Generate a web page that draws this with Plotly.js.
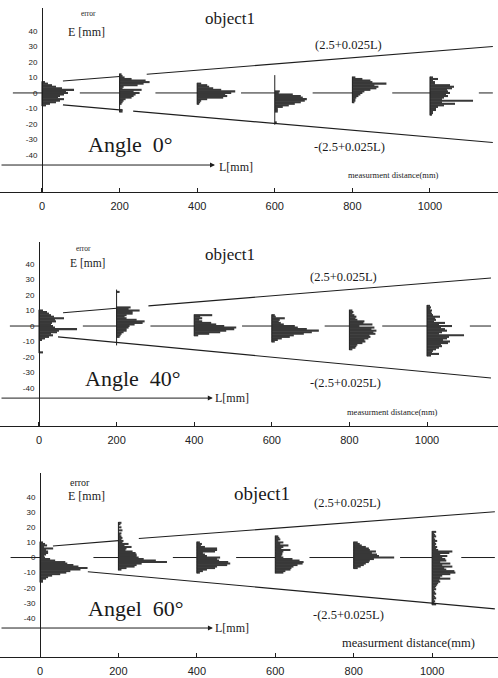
<!DOCTYPE html>
<html><head><meta charset="utf-8">
<script src="https://cdn.plot.ly/plotly-3.0.1.min.js"></script>
<style>html,body{margin:0;padding:0;background:#fff}#chart{width:498px;height:678px}</style>
</head><body><div id="chart"></div>
<script>
// ---------------- DATA ----------------
const DISTANCES = [0, 200, 400, 600, 800, 1000];           // measurement distance L [mm]
const X_TICK_LABELS = ['0', '200', '400', '600', '800', '1000'];
const Y_TICK_VALUES = [40, 30, 20, 10, 0, -10, -20, -30, -40];
const Y_TICK_LABELS = ['40', '30', '20', '10', '0', '-10', '-20', '-30', '-40'];
const PANEL_TITLES = ['Angle\u00a0\u00a00°', 'Angle\u00a0\u00a040°', 'Angel\u00a0\u00a060°'];

// Error histograms: highest error bin [mm] per distance, then bar lengths (counts) for 1 mm bins going down
const A0_TOP = [7, 12, 6, 11, 10, 10];
const A0_D0 = [3, 6, 10, 14, 20, 32, 24, 26, 22, 18, 16, 22, 18, 14, 8, 4];
const A0_D200 = [2, 3, 5, 12, 26, 30, 24, 18, 4, 3, 22, 14, 20, 16, 14, 12, 6, 4, 3, 2, 0, 0, 0, 3, 3];
const A0_D400 = [4, 10, 12, 16, 24, 38, 34, 28, 30, 26, 10, 4, 3, 2];
const A0_D600 = [0, 0, 0, 0, 0, 0, 0, 0, 0, 0, 5, 4, 18, 26, 28, 32, 30, 26, 20, 14, 8, 3, 3, 3, 0, 0, 0, 0, 0, 0, 2, 0];
const A0_D800 = [3, 10, 18, 20, 34, 22, 26, 24, 18, 12, 10, 8, 6, 4, 3, 3, 2];
const A0_D1000 = [3, 8, 3, 5, 5, 20, 24, 22, 17, 18, 20, 16, 18, 14, 12, 43, 12, 25, 14, 8, 6, 6, 3, 3, 2];

const A40_TOP = [10, 23, 7, 7, 10, 13];
const A40_D0 = [4, 8, 10, 12, 15, 25, 16, 17, 13, 12, 14, 16, 38, 20, 18, 12, 14, 10, 6, 3, 0, 0, 0, 0, 0, 0, 0, 4];
const A40_D200 = [0, 3, 0, 0, 0, 0, 0, 0, 0, 0, 0, 14, 12, 23, 16, 16, 10, 8, 10, 20, 28, 26, 18, 13, 12, 10, 10, 7, 5, 4, 3, 0, 0, 0, 0, 0];
const A40_D400 = [18, 6, 8, 5, 8, 17, 22, 30, 42, 40, 32, 26, 15, 4];
const A40_D600 = [3, 4, 13, 8, 7, 9, 12, 23, 26, 35, 47, 40, 32, 22, 18, 10, 6, 3];
const A40_D800 = [3, 4, 3, 5, 7, 6, 8, 15, 14, 23, 10, 25, 22, 27, 24, 26, 20, 21, 19, 15, 16, 13, 8, 7, 6, 3];
const A40_D1000 = [3, 4, 3, 5, 4, 5, 6, 13, 8, 9, 7, 18, 12, 25, 14, 18, 20, 15, 12, 37, 22, 20, 16, 23, 21, 14, 15, 12, 9, 6, 5, 12, 4];

const A60_TOP = [10, 23, 10, 14, 10, 17];
const A60_D0 = [3, 5, 7, 4, 13, 6, 8, 8, 6, 4, 5, 10, 15, 25, 27, 33, 38, 47, 40, 30, 26, 20, 12, 8, 6, 3, 3];
const A60_D200 = [3, 2, 0, 3, 0, 4, 0, 3, 2, 3, 4, 3, 5, 4, 10, 6, 13, 8, 7, 14, 17, 18, 18, 20, 25, 37, 48, 23, 18, 16, 8, 3];
const A60_D400 = [3, 5, 4, 8, 20, 20, 18, 6, 8, 10, 23, 20, 22, 31, 33, 30, 20, 18, 10, 6, 3];
const A60_D600 = [3, 4, 5, 3, 8, 5, 13, 8, 6, 15, 8, 7, 7, 6, 8, 17, 24, 28, 27, 22, 18, 16, 15, 10, 8];
const A60_D800 = [4, 6, 8, 12, 15, 16, 22, 18, 23, 25, 40, 20, 16, 15, 12, 10, 7, 4];
const A60_D1000 = [4, 2, 3, 4, 2, 3, 5, 3, 4, 3, 5, 4, 6, 20, 17, 8, 15, 10, 13, 14, 8, 18, 10, 20, 12, 14, 22, 23, 18, 10, 8, 18, 7, 8, 6, 5, 4, 3, 4, 2, 3, 4, 2, 3, 4, 2, 3, 2, 4];

// Tolerance lines ±(2.5+0.025L) as drawn (L [mm], E [mm]); null = break in the line
const A0_UPPER_L = [54, 200, null, 270, 1162];
const A0_UPPER_E = [7.7, 10.6, null, 12.1, 30];
const A0_LOWER_L = [54, 200, null, 235, 1162];
const A0_LOWER_E = [-7.7, -10.9, null, -11.7, -32];
const A40_UPPER_L = [62, 200, null, 282, 1165];
const A40_UPPER_E = [8.6, 11.5, null, 13.0, 31];
const A40_LOWER_L = [49, 1165];
const A40_LOWER_E = [-7, -33.5];
const A60_UPPER_L = [33, 200, null, 252, 1160];
const A60_UPPER_E = [7.6, 11.2, null, 12.6, 30.3];
const A60_LOWER_L = [122, 1160];
const A60_LOWER_E = [-9.4, -34];

// ---------------- DRAWING ----------------
const LEN_SCALE = 2.58;     // mm of the L axis per histogram count unit
const W = 498, H = 678;
const panels = [
  {top: A0_TOP, hists: [A0_D0, A0_D200, A0_D400, A0_D600, A0_D800, A0_D1000],
   up: [A0_UPPER_L, A0_UPPER_E], lo: [A0_LOWER_L, A0_LOWER_E],
   xr: [-108.2, 1175.3], yr: [-63.9, 54.8], pxTop: 8, pxBot: 192, axisPx: 42, arrowE: -46.5, arrowTip: 446, lineEnd: 1162},
  {top: A40_TOP, hists: [A40_D0, A40_D200, A40_D400, A40_D600, A40_D800, A40_D1000],
   up: [A40_UPPER_L, A40_UPPER_E], lo: [A40_LOWER_L, A40_LOWER_E],
   xr: [-100.5, 1183], yr: [-64.5, 54.2], pxTop: 242, pxBot: 426, axisPx: 39, arrowE: -46.5, arrowTip: 448, lineEnd: 1165},
  {top: A60_TOP, hists: [A60_D0, A60_D200, A60_D400, A60_D600, A60_D800, A60_D1000],
   up: [A60_UPPER_L, A60_UPPER_E], lo: [A60_LOWER_L, A60_LOWER_E],
   xr: [-102, 1168], yr: [-65.9, 56], pxTop: 473, pxBot: 657, axisPx: 40, arrowE: -46.7, arrowTip: 441, lineEnd: 1160}
];

const INK = '#1e1e1e', BAR = '#383838';
const SERIF = 'Liberation Serif, Times New Roman, serif';
const SANS = 'Liberation Sans, Arial, sans-serif';

const traces = [];
const layout = {
  width: W, height: H, margin: {l: 0, r: 0, t: 0, b: 0},
  paper_bgcolor: '#fff', plot_bgcolor: 'rgba(0,0,0,0)',
  showlegend: false, barmode: 'overlay', annotations: []
};

panels.forEach((p, k) => {
  const n = k === 0 ? '' : String(k + 1);
  const xa = 'x' + n, ya = 'y' + n;
  const by = [], bx = [], bb = [];
  const sx = [], sy = [];
  const cx = [], cy = [];
  cx.push(-75, 0, null); cy.push(0, 0, null);
  p.hists.forEach((h, i) => {
    const L = DISTANCES[i];
    let maxLen = 0;
    h.forEach((v, j) => {
      if (v > 0) { by.push(p.top[i] - j); bx.push(v * LEN_SCALE); bb.push(L); }
      maxLen = Math.max(maxLen, v);
    });
    sx.push(L, L, null); sy.push(p.top[i] + 0.5, p.top[i] - h.length + 0.5, null);
    const start = L + maxLen * LEN_SCALE + 15;
    const end = i < DISTANCES.length - 1 ? DISTANCES[i + 1] : p.lineEnd;
    if (start < end) { cx.push(start, end, null); cy.push(0, 0, null); }
  });
  traces.push({type: 'bar', orientation: 'h', y: by, x: bx, base: bb, width: 1.35,
    marker: {color: BAR, line: {width: 0}}, xaxis: xa, yaxis: ya, hoverinfo: 'skip'});
  traces.push({type: 'scatter', mode: 'lines', x: sx, y: sy, line: {color: INK, width: 1},
    xaxis: xa, yaxis: ya, hoverinfo: 'skip', connectgaps: false});
  traces.push({type: 'scatter', mode: 'lines', x: cx, y: cy, line: {color: INK, width: 1},
    xaxis: xa, yaxis: ya, hoverinfo: 'skip', connectgaps: false});
  traces.push({type: 'scatter', mode: 'lines', x: p.up[0], y: p.up[1], line: {color: INK, width: 1.1},
    xaxis: xa, yaxis: ya, hoverinfo: 'skip', connectgaps: false});
  traces.push({type: 'scatter', mode: 'lines', x: p.lo[0], y: p.lo[1], line: {color: INK, width: 1.1},
    xaxis: xa, yaxis: ya, hoverinfo: 'skip', connectgaps: false});

  const yDom = [1 - p.pxBot / H, 1 - p.pxTop / H];
  layout['xaxis' + n] = {
    domain: [0, 1], range: p.xr, anchor: ya, showline: true, linecolor: INK, linewidth: 1,
    ticks: 'inside', ticklen: 4, tickcolor: INK, tickvals: DISTANCES, ticktext: X_TICK_LABELS,
    tickfont: {family: SANS, size: 11, color: '#222'}, showgrid: false, zeroline: false, fixedrange: true,
    ticklabelstandoff: 4
  };
  layout['yaxis' + n] = {
    domain: yDom, range: p.yr, anchor: 'free', position: p.axisPx / W, showline: true,
    linecolor: INK, linewidth: 1, ticks: '', tickvals: Y_TICK_VALUES, ticktext: Y_TICK_LABELS,
    tickfont: {family: SANS, size: 8, color: '#222'}, showgrid: false, zeroline: false, fixedrange: true,
    ticklabelstandoff: 3
  };
  layout.annotations.push({xref: xa, yref: ya, x: p.arrowTip, y: p.arrowE, axref: xa, ayref: ya,
    ax: p.xr[0], ay: p.arrowE, text: '', showarrow: true, arrowhead: 2, arrowsize: 1, arrowwidth: 1, arrowcolor: INK});
});

function txt(text, x, y, size, anchor, family) {
  layout.annotations.push({xref: 'paper', yref: 'paper', x: x / W, y: 1 - y / H, text: text,
    showarrow: false, xanchor: anchor || 'center', yanchor: 'middle',
    font: {family: family || SERIF, size: size, color: '#1a1a1a'}});
}
// Panel 1
txt('object1', 230, 18, 17);
txt('error', 88, 14, 7.5);
txt('E [mm]', 86, 32, 12);
txt('(2.5+0.025L)', 348, 45, 12.5);
txt('-(2.5+0.025L)', 349, 147, 12.5);
txt(PANEL_TITLES[0], 86, 145, 22, 'left');
txt('L[mm]', 217, 167, 12, 'left');
txt('measurment distance(mm)', 346, 175, 8.5, 'left');
// Panel 2
txt('object1', 230, 254, 17);
txt('error', 83, 248, 7.5);
txt('E [mm]', 87, 263, 11.5);
txt('(2.5+0.025L)', 343, 277, 12.5);
txt('-(2.5+0.025L)', 345, 383, 12.5);
txt(PANEL_TITLES[1], 83, 378, 22, 'left');
txt('L[mm]', 213, 398, 12, 'left');
txt('measurment distance(mm)', 345, 412, 8.5, 'left');
// Panel 3
txt('object1', 262, 493, 19);
txt('error', 80, 482, 10);
txt('E [mm]', 86, 496, 12);
txt('(2.5+0.025L)', 347, 503, 12.5);
txt('-(2.5+0.025L)', 348, 615, 12.5);
txt(PANEL_TITLES[2], 86, 608, 22, 'left');
txt('L[mm]', 213, 628, 12, 'left');
txt('measurment distance(mm)', 340, 643, 12.5, 'left');

Plotly.newPlot('chart', traces, layout, {displayModeBar: false, staticPlot: true});
</script>
</body></html>
